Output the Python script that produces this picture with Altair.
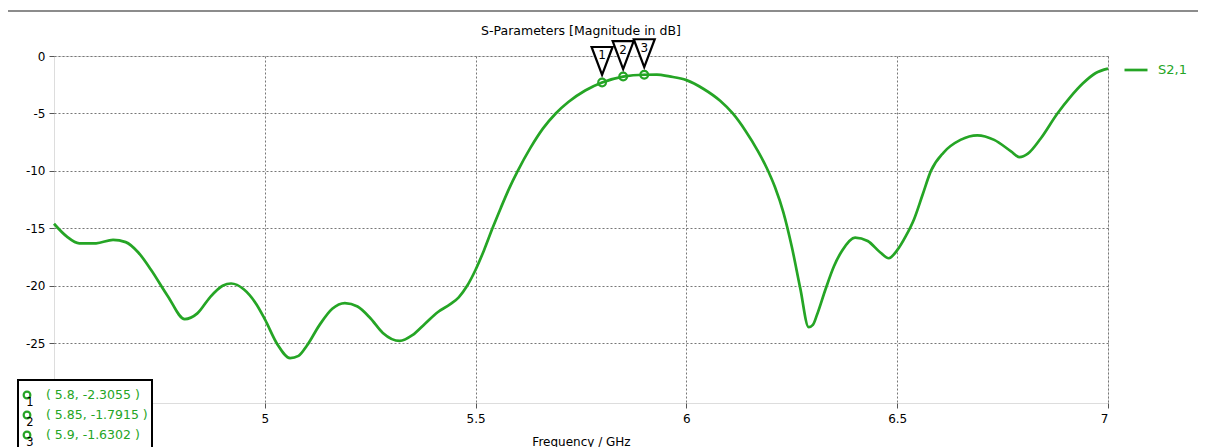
import altair as alt
import pandas as pd

# ---------------- data ----------------
chart_title = "S-Parameters [Magnitude in dB]"
x_title = "Frequency / GHz"

freq = [4.50, 4.53, 4.56, 4.60, 4.64, 4.67, 4.70, 4.73, 4.77, 4.81, 4.84, 4.87, 4.90, 4.92,
        4.95, 4.98, 5.00, 5.03, 5.06, 5.08, 5.10, 5.13, 5.16, 5.19, 5.22, 5.25, 5.28, 5.32,
        5.35, 5.38, 5.41, 5.44, 5.46, 5.48, 5.50, 5.52, 5.54, 5.56, 5.58, 5.60, 5.63, 5.66,
        5.69, 5.72, 5.76, 5.80, 5.85, 5.90, 5.93, 5.96, 6.00, 6.04, 6.08, 6.11, 6.14, 6.17,
        6.19, 6.21, 6.23, 6.25, 6.27, 6.29, 6.30, 6.31, 6.33, 6.35, 6.37, 6.40, 6.43, 6.46,
        6.48, 6.50, 6.52, 6.54, 6.56, 6.58, 6.61, 6.65, 6.69, 6.73, 6.77, 6.79, 6.81, 6.84,
        6.88, 6.91, 6.94, 6.97, 7.00]
s21 = [-14.6, -15.7, -16.3, -16.3, -16.0, -16.2, -17.1, -18.6, -20.9, -22.9, -22.4, -21.0, -20.0, -19.8,
       -20.3, -21.6, -22.9, -25.1, -26.3, -26.1, -25.2, -23.4, -22.0, -21.5, -21.8, -22.8, -24.1, -24.8,
       -24.3, -23.3, -22.3, -21.6, -21.0, -20.0, -18.6, -16.9, -15.0, -13.2, -11.5, -10.0, -8.0, -6.3,
       -5.0, -4.0, -3.0, -2.3055, -1.7915, -1.6302, -1.62, -1.78, -2.1, -2.85, -3.9, -5.0, -6.5, -8.3,
       -9.7, -11.4, -13.6, -16.6, -20.2, -23.6, -23.4, -22.5, -20.3, -18.3, -16.9, -15.8, -16.1, -17.1,
       -17.6, -16.9, -15.7, -14.2, -12.1, -10.0, -8.4, -7.3, -6.9, -7.3, -8.3, -8.8, -8.5, -7.2,
       -5.0, -3.6, -2.4, -1.5, -1.1]
series_name = "S2,1"

marker_id = [1, 2, 3]
marker_freq = [5.8, 5.85, 5.9]
marker_val = [-2.3055, -1.7915, -1.6302]

x_ticks = [5, 5.5, 6, 6.5, 7]
y_ticks = [0, -5, -10, -15, -20, -25]

GREEN = "#25a525"
FONT = "DejaVu Sans"

df = pd.DataFrame({"freq": freq, "s21": s21, "series": series_name})
mdf = pd.DataFrame({
    "idx": marker_id,
    "freq": marker_freq,
    "s21": marker_val,
    "num": [str(i) for i in marker_id],
    "label": [f"( {f:g}, {v:g} )" for f, v in zip(marker_freq, marker_val)],
})
dummy = pd.DataFrame({"a": [0]})
title_df = pd.DataFrame({"t": [chart_title]})

xscale = alt.Scale(domain=[4.5, 7], nice=False, zero=False)
yscale = alt.Scale(domain=[-30.2, 0], nice=False, zero=False)

x_enc = alt.X("freq:Q", scale=xscale, axis=alt.Axis(
    values=x_ticks, title=x_title, labelExpr="toString(datum.value)",
    grid=True, gridDash=[2, 2], gridColor="#777777", gridWidth=1,
    domain=False, tickSize=5, tickColor="#555555",
    labelPadding=5, labelFont=FONT, labelFontSize=12, labelColor="black",
    titleFont=FONT, titleFontSize=12, titleFontWeight="normal", titleColor="black",
    titleY=42, titleBaseline="alphabetic"))
y_enc = alt.Y("s21:Q", scale=yscale, axis=alt.Axis(
    values=y_ticks, title=None, labelExpr="toString(datum.value)",
    grid=True, gridDash=[2, 2], gridColor="#777777", gridWidth=1,
    domain=False, tickSize=5, tickColor="#555555",
    labelPadding=4, labelFont=FONT, labelFontSize=12, labelColor="black"))

line = alt.Chart(df).mark_line(interpolate="monotone", strokeWidth=2.7).encode(
    x=x_enc, y=y_enc,
    color=alt.Color("series:N", scale=alt.Scale(domain=[series_name], range=[GREEN]),
                    legend=alt.Legend(orient="none", legendX=1069, legendY=1, title=None,
                                      symbolType="stroke", symbolSize=529, symbolStrokeWidth=2.7,
                                      labelColor=GREEN, labelFont=FONT, labelFontSize=13,
                                      labelOffset=9, padding=0)))

markers = alt.Chart(mdf).mark_point(shape="circle", filled=False, size=60, strokeWidth=2.2,
                                    color=GREEN, opacity=1).encode(
    x=alt.X("freq:Q", scale=xscale), y=alt.Y("s21:Q", scale=yscale))
dots = alt.Chart(mdf).mark_point(shape="circle", filled=True, size=3, color=GREEN, opacity=1).encode(
    x=alt.X("freq:Q", scale=xscale), y=alt.Y("s21:Q", scale=yscale))

tri = alt.Chart(mdf).mark_point(shape="M-0.75,-1L0.75,-1L0,1Z", size=784, filled=True,
                                fill="white", stroke="black", strokeWidth=2.2, opacity=1,
                                yOffset=-21.5).encode(
    x=alt.X("freq:Q", scale=xscale), y=alt.Y("s21:Q", scale=yscale))
tri_text = alt.Chart(mdf).mark_text(font=FONT, fontSize=12, color="black", dy=-27).encode(
    x=alt.X("freq:Q", scale=xscale), y=alt.Y("s21:Q", scale=yscale), text="num:N")

top_rule = alt.Chart(dummy).mark_rule(color="#8c8c8c", strokeWidth=2).encode(
    x=alt.value(-54), x2=alt.value(1160), y=alt.value(-45))

title_mark = alt.Chart(title_df).mark_text(font=FONT, fontSize=12.5, color="black",
                                           align="center", baseline="alphabetic").encode(
    x=alt.value(527), y=alt.value(-21), text="t:N")

main = alt.layer(top_rule, title_mark, line, markers, dots, tri, tri_text)

rowscale = alt.Scale(type="point", domain=marker_id, range=[339, 379], padding=0)
box_rect = alt.Chart(dummy).mark_rect(fill="white", stroke="black", strokeWidth=2).encode(
    x=alt.value(-36), x2=alt.value(98), y=alt.value(324), y2=alt.value(400))
box_circ = alt.Chart(mdf).mark_point(shape="circle", filled=False, size=45, strokeWidth=2.2,
                                     color=GREEN, opacity=1).encode(
    x=alt.value(-27), y=alt.Y("idx:O", scale=rowscale, axis=None))
box_num = alt.Chart(mdf).mark_text(font=FONT, fontSize=11.5, color="black", dy=8).encode(
    x=alt.value(-24), y=alt.Y("idx:O", scale=rowscale, axis=None), text="num:N")
box_text = alt.Chart(mdf).mark_text(font=FONT, fontSize=12.5, color=GREEN, align="left").encode(
    x=alt.value(-8), y=alt.Y("idx:O", scale=rowscale, axis=None), text="label:N")
box = alt.layer(box_rect, box_circ, box_num, box_text)

chart = alt.layer(main, box).resolve_scale(y="independent").properties(
    width=1054, height=347,
    padding={"left": 46, "top": 48, "right": 90, "bottom": 44},
    autosize="none",
).configure_view(stroke="#5a5a5a", strokeWidth=1).configure(background="white")

chart.save("out.html", embed_options={"renderer": "svg", "actions": False})
